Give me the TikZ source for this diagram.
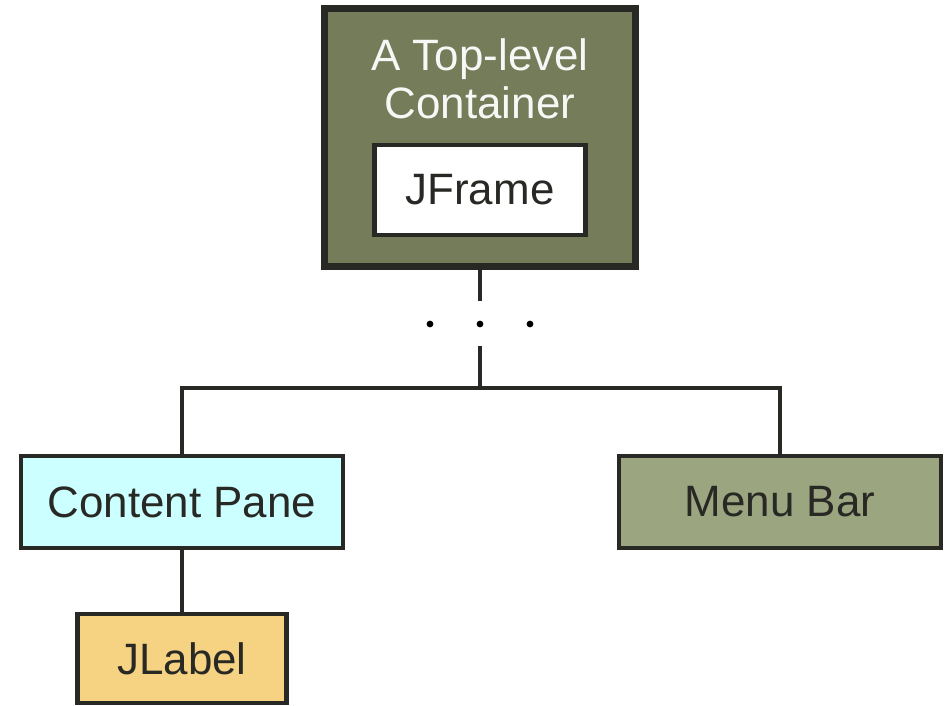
\documentclass[tikz,border=0pt]{standalone}
\usepackage{fontspec}
\setmainfont{Liberation Sans}
\usepackage{tikz}
\usetikzlibrary{positioning, calc}
\definecolor{containerolive}{RGB}{117, 124, 90}
\definecolor{menuolive}{RGB}{155, 165, 127}
\definecolor{panecyan}{RGB}{204, 255, 255}
\definecolor{labeltan}{RGB}{245, 211, 131}
\definecolor{edgegray}{RGB}{40, 40, 36}

\begin{document}
\begin{tikzpicture}[
    x=0.02cm, y=-0.02cm,
    topbox/.style={rectangle, minimum width=6.24cm, minimum height=5.16cm,
        fill=containerolive, draw=edgegray, line width=4pt},
    toptext/.style={font=\fontsize{25}{27.5}\selectfont, text=white!94!containerolive,
        align=center},
    framebox/.style={rectangle, minimum width=4.22cm, minimum height=1.8cm,
        text centered, font=\fontsize{25}{30}\selectfont, text=edgegray,
        fill=white, draw=edgegray, line width=2.5pt},
    panebox/.style={rectangle, minimum width=6.44cm, minimum height=1.84cm,
        text centered, font=\fontsize{25}{30}\selectfont, text=edgegray,
        draw=edgegray, line width=2.5pt},
    labelbox/.style={rectangle, minimum width=4.18cm, minimum height=1.78cm,
        text centered, font=\fontsize{25}{30}\selectfont, text=edgegray,
        fill=labeltan, draw=edgegray, line width=2.5pt},
    link/.style={draw=edgegray, line width=2.2pt},
]
\useasboundingbox (0,0) rectangle (950,706);

% ── TOP-LEVEL CONTAINER ─────────────────────────────────────────────────────
\node[topbox]   at (480, 137.5) (top)   {};
\node[toptext]  at (480,  79)   (title) {A Top-level\\Container};
\node[framebox] at (480, 190)   (frame) {JFrame};

% ── CHILDREN ────────────────────────────────────────────────────────────────
\node[panebox, fill=panecyan]  at (182, 502)   (pane) {Content Pane};
\node[panebox, fill=menuolive] at (780, 502)   (menu) {Menu Bar};
\node[labelbox]                at (182, 658.5) (jlabel) {JLabel};

% ── TREE LINES ──────────────────────────────────────────────────────────────
\coordinate (gaptop) at (480, 301);
\coordinate (gapbot) at (480, 346);
\coordinate (hub)    at (480, 388);

\draw[link] (top.south) -- (gaptop);
\draw[link] (gapbot) -- (hub);
\draw[link] (hub) -| (pane.north);
\draw[link] (hub) -| (menu.north);
\draw[link] (pane.south) -- (jlabel.north);

% elided levels
\foreach \dx in {430, 480, 530}
    \fill[black] (\dx, 324) circle (3.4);

\end{tikzpicture}
\end{document}
